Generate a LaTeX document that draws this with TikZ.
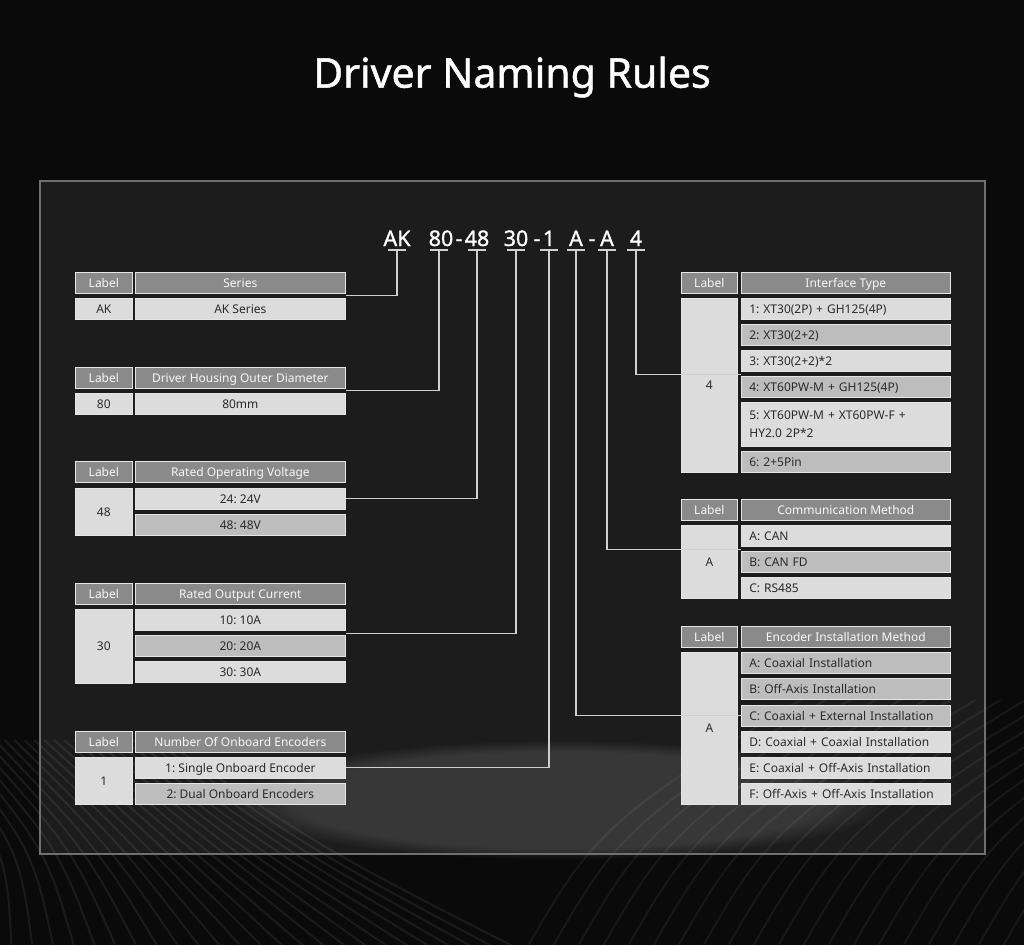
\documentclass[tikz,border=0pt]{standalone}
\usepackage{fontspec}
\setmainfont{Noto Sans}
\newfontfamily\medfont[FakeBold=1.2]{Noto Sans}
\usepackage{xcolor}
\usepackage{tikz}
\usetikzlibrary{positioning,calc,fadings}

\definecolor{bgdark}{HTML}{0A0A0A}
\definecolor{panel}{HTML}{1C1C1C}
\definecolor{frameline}{HTML}{707070}
\definecolor{hdrgray}{HTML}{8A8A8A}
\definecolor{celllight}{HTML}{DCDCDC}
\definecolor{celldark}{HTML}{BDBDBD}
\definecolor{cellink}{HTML}{2A2A2A}
\definecolor{linkgray}{HTML}{CFCFCF}

\begin{document}
\begin{tikzpicture}[
  x=1pt, y=-1pt,
  cell/.style={draw=white!80!gray, line width=0.7pt, inner sep=0pt, anchor=north west, minimum height=21pt, text height=10pt, text depth=1.4pt, font=\fontsize{12}{18}\selectfont\frenchspacing, text=cellink, align=center},
  hdr/.style={cell, fill=hdrgray, text=white!94!gray},
  lt/.style={cell, fill=celllight},
  dk/.style={cell, fill=celldark},
  lw/.style={minimum width=57pt},
  dw/.style={minimum width=210pt},
  rlw/.style={minimum width=56pt},
  rdw/.style={text width=193pt, inner xsep=8pt, align=left},
  code/.style={anchor=base, text=white, font=\medfont\fontsize{21.5}{24}\selectfont},
  link/.style={draw=linkgray, line width=1.1pt}
]
% background and panel
\fill[bgdark] (0,0) rectangle (1024,945);
\fill[panel] (40,181) rectangle (985,854);
\fill[white, opacity=0.12, path fading=circle with fuzzy edge 20 percent] (560,800) ellipse (330 and 60);
\begin{scope}
  \clip (0,700) rectangle (1024,945);
  \foreach \s in {-120,-98,...,560}
    \draw[white, opacity=0.07, line width=2pt] (\s*0.45-80,740) .. controls (\s*0.6,850) .. (\s,960);
  \foreach \s in {520,545,...,1200}
    \draw[white, opacity=0.06, line width=2pt] (\s,960) .. controls (\s+80,820) .. (\s+380,640);
\end{scope}
\draw[frameline, line width=1.4pt] (40,181) rectangle (985,854);

% title
\node[text=white, font=\medfont\fontsize{41}{46}\selectfont] (title) at (512,77) {Driver Naming Rules};

% code line
\node[code] (k1) at (397,246) {AK};
\node[code] (k2) at (441,246) {80};
\node[code] (d1) at (459,246) {-};
\node[code] (k3) at (477,246) {48};
\node[code] (k4) at (516,246) {30};
\node[code] (d2) at (537,246) {-};
\node[code] (k5) at (549,246) {1};
\node[code] (k6) at (576,246) {A};
\node[code] (d3) at (592,246) {-};
\node[code] (k7) at (607,246) {A};
\node[code] (k8) at (636,246) {4};

% series
\node[hdr, lw] (ser0l) at (75,272) {Label};
\node[hdr, dw] (ser0) at (135,272) {Series};
\node[lt, lw] (serl) at (75,298) {AK};
\node[lt, dw] (ser1) at (135,298) {AK Series};

% housing diameter
\node[hdr, lw] (hsg0l) at (75,367) {Label};
\node[hdr, dw] (hsg0) at (135,367) {Driver Housing Outer Diameter};
\node[lt, lw] (hsgl) at (75,393) {80};
\node[lt, dw] (hsg1) at (135,393) {80mm};

% voltage
\node[hdr, lw] (vol0l) at (75,461) {Label};
\node[hdr, dw] (vol0) at (135,461) {Rated Operating Voltage};
\node[lt, lw, minimum height=47pt] (voll) at (75,488) {48};
\node[lt, dw] (vol1) at (135,488) {24: 24V};
\node[dk, dw] (vol2) at (135,514) {48: 48V};

% current
\node[hdr, lw] (cur0l) at (75,583) {Label};
\node[hdr, dw] (cur0) at (135,583) {Rated Output Current};
\node[lt, lw, minimum height=74pt] (curl) at (75,609) {30};
\node[lt, dw] (cur1) at (135,609) {10: 10A};
\node[dk, dw] (cur2) at (135,635) {20: 20A};
\node[lt, dw] (cur3) at (135,661) {30: 30A};

% onboard encoders
\node[hdr, lw] (enc0l) at (75,731) {Label};
\node[hdr, dw] (enc0) at (135,731) {Number Of Onboard Encoders};
\node[lt, lw, minimum height=47pt] (encl) at (75,757) {1};
\node[lt, dw] (enc1) at (135,757) {1: Single Onboard Encoder};
\node[dk, dw] (enc2) at (135,783) {2: Dual Onboard Encoders};

% interface type
\node[hdr, rlw] (ifc0l) at (681,272) {Label};
\node[hdr, minimum width=209pt] (ifc0) at (741,272) {Interface Type};
\node[lt, rlw, minimum height=174pt] (ifcl) at (681,298) {4};
\node[lt, rdw] (ifc1) at (741,298) {1: XT30(2P) + GH125(4P)};
\node[dk, rdw] (ifc2) at (741,324) {2: XT30(2+2)};
\node[lt, rdw] (ifc3) at (741,350) {3: XT30(2+2)*2};
\node[dk, rdw] (ifc4) at (741,376) {4: XT60PW-M + GH125(4P)};
\node[lt, rdw, minimum height=44pt, text depth=20pt] (ifc5) at (741,402) {5: XT60PW-M + XT60PW-F +\\HY2.0 2P*2};
\node[dk, rdw] (ifc6) at (741,451) {6: 2+5Pin};

% communication
\node[hdr, rlw] (com0l) at (681,499) {Label};
\node[hdr, minimum width=209pt] (com0) at (741,499) {Communication Method};
\node[lt, rlw, minimum height=73pt] (coml) at (681,525) {A};
\node[lt, rdw] (com1) at (741,525) {A: CAN};
\node[dk, rdw] (com2) at (741,551) {B: CAN FD};
\node[lt, rdw] (com3) at (741,577) {C: RS485};

% encoder installation
\node[hdr, rlw] (ins0l) at (681,626) {Label};
\node[hdr, minimum width=209pt] (ins0) at (741,626) {Encoder Installation Method};
\node[lt, rlw, minimum height=152pt] (insl) at (681,652) {A};
\node[dk, rdw] (ins1) at (741,652) {A: Coaxial Installation};
\node[dk, rdw] (ins2) at (741,678) {B: Off-Axis Installation};
\node[dk, rdw] (ins3) at (741,705) {C: Coaxial + External Installation};
\node[lt, rdw] (ins4) at (741,731) {D: Coaxial + Coaxial Installation};
\node[lt, rdw] (ins5) at (741,757) {E: Coaxial + Off-Axis Installation};
\node[lt, rdw] (ins6) at (741,783) {F: Off-Axis + Off-Axis Installation};

% connectors
\draw[link] ([yshift=-4pt]k1.base) ++(-9,0) -- ++(18,0) ++(-9,0) |- ([yshift=2.5pt]ser1.north east);
\draw[link] ([xshift=-2pt,yshift=-4pt]k2.base) ++(-9,0) -- ++(18,0) ++(-9,0) |- ([yshift=2.5pt]hsg1.north east);
\draw[link] ([yshift=-4pt]k3.base) ++(-9,0) -- ++(18,0) ++(-9,0) |- (vol1.east);
\draw[link] ([yshift=-4pt]k4.base) ++(-9,0) -- ++(18,0) ++(-9,0) |- ([yshift=-2.5pt]cur1.south east);
\draw[link] ([yshift=-4pt]k5.base) ++(-9,0) -- ++(18,0) ++(-9,0) |- (enc1.east);
\draw[link] ([yshift=-4pt]k6.base) ++(-9,0) -- ++(18,0) ++(-9,0) |- (ins3.west);
\draw[link] ([yshift=-4pt]k7.base) ++(-9,0) -- ++(18,0) ++(-9,0) |- ([yshift=-2.5pt]com1.south west);
\draw[link] ([yshift=-4pt]k8.base) ++(-9,0) -- ++(18,0) ++(-9,0) |- ([yshift=-2.5pt]ifc3.south west);
\end{tikzpicture}
\end{document}
